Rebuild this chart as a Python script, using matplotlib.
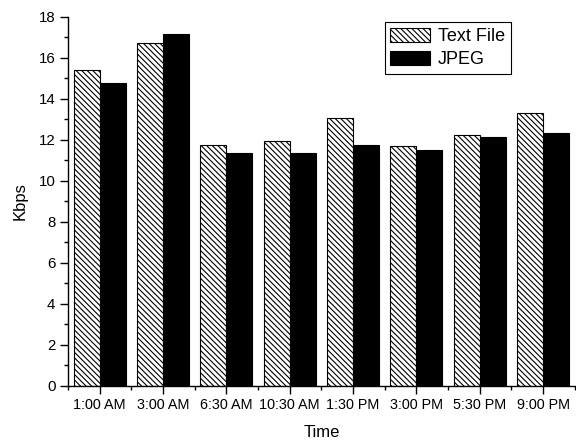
import matplotlib
matplotlib.use("Agg")
import matplotlib.pyplot as plt
import numpy as np
from matplotlib.ticker import MultipleLocator, FixedLocator

times = ["1:00 AM", "3:00 AM", "6:30 AM", "10:30 AM", "1:30 PM", "3:00 PM", "5:30 PM", "9:00 PM"]
text_file = [15.4, 16.7, 11.75, 11.95, 13.05, 11.7, 12.25, 13.3]
jpeg = [14.75, 17.15, 11.35, 11.35, 11.75, 11.5, 12.15, 12.35]

plt.rcParams["font.family"] = ["Liberation Sans", "DejaVu Sans"]
plt.rcParams["hatch.linewidth"] = 0.8

fig = plt.figure(figsize=(5.76, 4.43), dpi=100)
ax = fig.add_axes([0.118, 0.129, 0.880, 0.833])

x = np.arange(len(times))
w = 0.41
ax.bar(x - w / 2, text_file, width=w, facecolor="white", edgecolor="black",
       hatch="\\" * 6, linewidth=0.8, label="Text File")
ax.bar(x + w / 2, jpeg, width=w, facecolor="black", edgecolor="black",
       linewidth=0.8, label="JPEG")

ax.set_xlim(-0.5, len(times) - 0.5)
ax.set_ylim(0, 18)
ax.set_xticks(x)
ax.set_xticklabels(times, fontsize=10.4)
ax.xaxis.set_minor_locator(FixedLocator(np.arange(-0.5, len(times), 1)))
ax.yaxis.set_major_locator(MultipleLocator(2))
ax.yaxis.set_minor_locator(MultipleLocator(1))
ax.tick_params(axis="both", which="major", direction="out", length=5.5, width=1)
ax.tick_params(axis="y", which="major", labelsize=10.8)
ax.tick_params(axis="both", which="minor", direction="out", length=3, width=1)

for s in ("top", "right"):
    ax.spines[s].set_visible(False)
for s in ("left", "bottom"):
    ax.spines[s].set_linewidth(1.0)

ax.set_xlabel("Time", fontsize=12, labelpad=9)
ax.set_ylabel("Kbps", fontsize=12, labelpad=8)

leg = ax.legend(loc="upper left", bbox_to_anchor=(0.625, 0.985), fontsize=13,
                frameon=True, fancybox=False, edgecolor="black", framealpha=1,
                handlelength=2.2, handleheight=0.8, handletextpad=0.45,
                borderpad=0.3, labelspacing=0.35, borderaxespad=0)
leg.get_frame().set_linewidth(0.8)

fig.savefig("out.png", dpi=100)
